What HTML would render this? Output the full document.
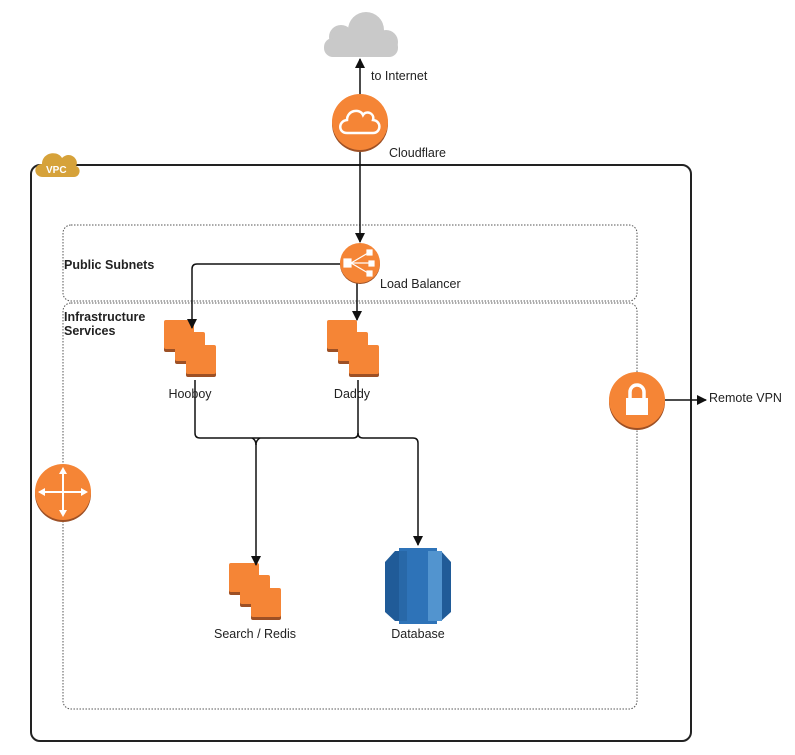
<!DOCTYPE html>
<html><head><meta charset="utf-8"><style>
html,body{margin:0;padding:0;background:#fff;}
text{font-family:"Liberation Sans",sans-serif;font-size:12.5px;fill:#222;}
</style></head><body>
<svg width="795" height="750" viewBox="0 0 795 750" xmlns="http://www.w3.org/2000/svg">
<defs>
<marker id="ah" markerWidth="10" markerHeight="10" refX="9" refY="5" orient="auto" markerUnits="userSpaceOnUse">
<path d="M0,0 L10,5 L0,10 z" fill="#111"/></marker>
<g id="sq"><rect x="0" y="2" width="30" height="30" rx="2" fill="#9d5025"/><rect x="0" y="0" width="30" height="29" rx="2" fill="#f58536"/></g>
<g id="stack"><use href="#sq"/><use href="#sq" x="11" y="12"/><use href="#sq" x="22" y="25"/></g>
</defs>
<!-- cloud -->
<g fill="#c9c9c9">
<circle cx="341" cy="37" r="12"/><circle cx="366" cy="30" r="18"/><circle cx="386" cy="42" r="12"/>
<rect x="324" y="38" width="74" height="19" rx="9"/>
</g>
<!-- VPC -->
<rect x="31" y="165" width="660" height="576" rx="9" fill="none" stroke="#222" stroke-width="2"/>
<path d="M43,177 C33,177 33,164 42,164 C42,152 58,150 62,158 C70,150 80,160 76,166 C82,168 80,177 74,177 Z" fill="#d6a23a"/>
<text x="46" y="173" style="font-size:10px;fill:#fff;font-weight:bold">VPC</text>
<!-- subnets -->
<rect x="63" y="225" width="574" height="76" rx="8" fill="none" stroke="#555" stroke-dasharray="1.5,1.5"/>
<rect x="63" y="303" width="574" height="406" rx="8" fill="none" stroke="#555" stroke-dasharray="1.5,1.5"/>
<text x="64" y="269" style="font-weight:bold">Public Subnets</text>
<text x="64" y="321" style="font-weight:bold">Infrastructure</text>
<text x="64" y="335" style="font-weight:bold">Services</text>
<!-- stacks -->
<use href="#stack" x="164" y="320"/>
<use href="#stack" x="327" y="320"/>
<use href="#stack" x="229" y="563"/>
<!-- connectors -->
<g fill="none" stroke="#111" stroke-width="1.5">
<line x1="360" y1="95" x2="360" y2="59" marker-end="url(#ah)"/>
<line x1="360" y1="151" x2="360" y2="242" marker-end="url(#ah)"/>
<path d="M342,264 H197 Q192,264 192,269 V328" marker-end="url(#ah)"/>
<line x1="357" y1="283" x2="357" y2="320" marker-end="url(#ah)"/>
<path d="M195,380 V433 Q195,438 200,438 H353 Q358,438 358,433 V380"/>
<path d="M358,433 Q358,438 363,438 H413 Q418,438 418,443 V545" marker-end="url(#ah)"/>
<path d="M252,438 Q256,440 256,445 Q256,440 260,438"/>
<line x1="256" y1="444" x2="256" y2="565" marker-end="url(#ah)"/>
<line x1="665" y1="400" x2="706" y2="400" marker-end="url(#ah)"/>
</g>
<!-- Cloudflare -->
<circle cx="360" cy="124" r="28" fill="#9d5025"/>
<circle cx="360" cy="122" r="28" fill="#f58536"/>
<path d="M347,133 C338,133 338,121 347,120 C347,110 360,108 363,115 C366,110 375,113 373,120 C382,121 381,133 373,133 Z" fill="none" stroke="#fff" stroke-width="2.5"/>
<text x="389" y="157">Cloudflare</text>
<text x="371" y="80">to Internet</text>
<!-- LB -->
<circle cx="360" cy="264" r="20" fill="#9d5025"/>
<circle cx="360" cy="263" r="20" fill="#f58536"/>
<g fill="#fff" stroke="#fff" stroke-width="1.2"><rect x="344" y="259" width="7" height="8"/><line x1="351" y1="263" x2="370" y2="263"/><line x1="351" y1="263" x2="368" y2="253"/><line x1="351" y1="263" x2="368" y2="273"/><rect x="367" y="250" width="5" height="5"/><rect x="369" y="261" width="5" height="5"/><rect x="367" y="271" width="5" height="5"/></g>
<text x="380" y="288">Load Balancer</text>
<text x="190" y="398" text-anchor="middle">Hooboy</text>
<text x="352" y="398" text-anchor="middle">Daddy</text>
<text x="255" y="638" text-anchor="middle">Search / Redis</text>
<!-- DB -->
<path d="M395,551 L441,551 L451,562 L451,612 L441,621 L395,621 L385,612 L385,562 Z" fill="#205b98"/>
<rect x="399" y="548" width="38" height="76" fill="#2e73b8"/>
<rect x="428" y="551" width="14" height="70" fill="#5294cf"/>
<rect x="399" y="551" width="8" height="70" fill="#2868a8"/>
<text x="418" y="638" text-anchor="middle">Database</text>
<!-- lock -->
<circle cx="637" cy="402" r="28" fill="#9d5025"/>
<circle cx="637" cy="400" r="28" fill="#f58536"/>
<rect x="626" y="398" width="22" height="17" fill="#fff"/>
<path d="M630,399 V392 A7,7 0 0 1 644,392 V399" fill="none" stroke="#fff" stroke-width="3.5"/>
<text x="709" y="402">Remote VPN</text>
<!-- router -->
<circle cx="63" cy="494" r="28" fill="#9d5025"/>
<circle cx="63" cy="492" r="28" fill="#f58536"/>
<g stroke="#fff" stroke-width="2" fill="#fff"><line x1="40" y1="492" x2="86" y2="492"/><line x1="63" y1="469" x2="63" y2="515"/>
<path d="M38,492 L45,488 L45,496Z M88,492 L81,488 L81,496Z M63,467 L59,474 L67,474Z M63,517 L59,510 L67,510Z" stroke-width="0"/></g>
</svg>
</body></html>
